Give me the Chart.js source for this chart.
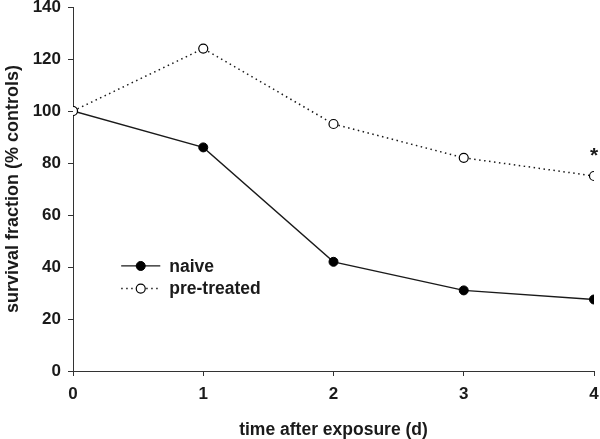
<!DOCTYPE html>
<html>
<head>
<meta charset="utf-8">
<script src="https://cdn.jsdelivr.net/npm/chart.js@4/dist/chart.umd.min.js"></script>
<style>
html,body{margin:0;padding:0;background:#fff;}
#wrap{width:600px;height:439px;position:relative;}
</style>
</head>
<body>
<div id="wrap"><canvas id="c"></canvas></div>
<script>
const days = [0, 1, 2, 3, 4];
const naive = [100, 86, 42, 31, 27.5];
const preTreated = [100, 124, 95, 82, 75];
const seriesLabels = ['naive', 'pre-treated'];
const yTicks = [0, 20, 40, 60, 80, 100, 120, 140];
const xTitle = 'time after exposure (d)';
const yTitle = 'survival fraction (% controls)';
const significance = [{series: 1, index: 4, text: '*'}];

const FONT = '"Liberation Sans", Arial, sans-serif';
const ink = '#1a1a1a';

const legendPlugin = {
  id: 'insideLegend',
  afterDatasetsDraw(chart) {
    const ctx = chart.ctx;
    const xs = chart.scales.x, ys = chart.scales.y;
    const x0 = xs.getPixelForValue(0.37), x1 = xs.getPixelForValue(0.67);
    const rows = [ys.getPixelForValue(40.4), ys.getPixelForValue(31.7)];
    chart.data.datasets.forEach((ds, i) => {
      const y = rows[i];
      ctx.save();
      ctx.strokeStyle = ds.borderColor;
      ctx.lineWidth = ds.borderWidth;
      ctx.setLineDash(ds.borderDash || []);
      ctx.beginPath(); ctx.moveTo(x0, y); ctx.lineTo(x1, y); ctx.stroke();
      ctx.setLineDash([]);
      ctx.beginPath();
      ctx.arc((x0 + x1) / 2, y, ds.pointRadius, 0, Math.PI * 2);
      ctx.fillStyle = ds.pointBackgroundColor; ctx.fill();
      ctx.lineWidth = ds.pointBorderWidth; ctx.strokeStyle = ds.pointBorderColor; ctx.stroke();
      ctx.fillStyle = ink;
      ctx.font = 'bold 17.5px ' + FONT;
      ctx.textBaseline = 'middle';
      ctx.textAlign = 'left';
      ctx.fillText(ds.label, x1 + 9, y + 1);
      ctx.restore();
    });
    significance.forEach(s => {
      const v = chart.data.datasets[s.series].data[s.index];
      const px = xs.getPixelForValue(v.x), py = ys.getPixelForValue(v.y);
      ctx.save();
      ctx.fillStyle = ink;
      ctx.font = 'bold 21px ' + FONT;
      ctx.textAlign = 'center';
      ctx.textBaseline = 'middle';
      ctx.fillText(s.text, px, py - 20);
      ctx.restore();
    });
  }
};

new Chart(document.getElementById('c'), {
  type: 'line',
  data: {
    datasets: [
      {
        label: seriesLabels[0],
        order: 1,
        data: days.map((d, i) => ({x: d, y: naive[i]})),
        borderColor: ink, borderWidth: 1.3,
        pointRadius: 4.5, pointBackgroundColor: '#000', pointBorderColor: '#000', pointBorderWidth: 1,
        tension: 0
      },
      {
        label: seriesLabels[1],
        order: 0,
        data: days.map((d, i) => ({x: d, y: preTreated[i]})),
        borderColor: ink, borderWidth: 1.5, borderDash: [1.5, 3.5],
        pointRadius: 4.5, pointBackgroundColor: '#fff', pointBorderColor: '#000', pointBorderWidth: 1.2,
        tension: 0
      }
    ]
  },
  options: {
    responsive: true,
    maintainAspectRatio: false,
    animation: false,
    layout: {padding: {top: 7, right: 6, left: 0, bottom: 0}},
    plugins: {legend: {display: false}, tooltip: {enabled: false}},
    scales: {
      x: {
        type: 'linear', min: 0, max: 4,
        afterFit(s) { s.height = 68; s.paddingLeft = 0; s.paddingRight = 0; },
        ticks: {stepSize: 1, color: ink, padding: 8, font: {family: FONT, size: 17, weight: 'bold'}},
        grid: {drawOnChartArea: false, tickLength: 5, color: '#333', lineWidth: 1},
        border: {color: '#333', width: 1},
        title: {display: true, text: xTitle, color: ink, padding: {top: 4, bottom: -2}, font: {family: FONT, size: 17.5, weight: 'bold'}}
      },
      y: {
        type: 'linear', min: 0, max: 140,
        afterFit(s) { s.width = 73; s.paddingTop = 0; s.paddingBottom = 0; },
        afterBuildTicks(s) { s.ticks = yTicks.map(v => ({value: v})); },
        ticks: {color: ink, padding: 7, font: {family: FONT, size: 17, weight: 'bold'}},
        grid: {drawOnChartArea: false, tickLength: 5, color: '#333', lineWidth: 1},
        border: {color: '#333', width: 1},
        title: {display: true, text: yTitle, color: ink, padding: {top: 2, bottom: 0}, font: {family: FONT, size: 18, weight: 'bold'}}
      }
    }
  },
  plugins: [legendPlugin]
});
</script>
</body>
</html>
